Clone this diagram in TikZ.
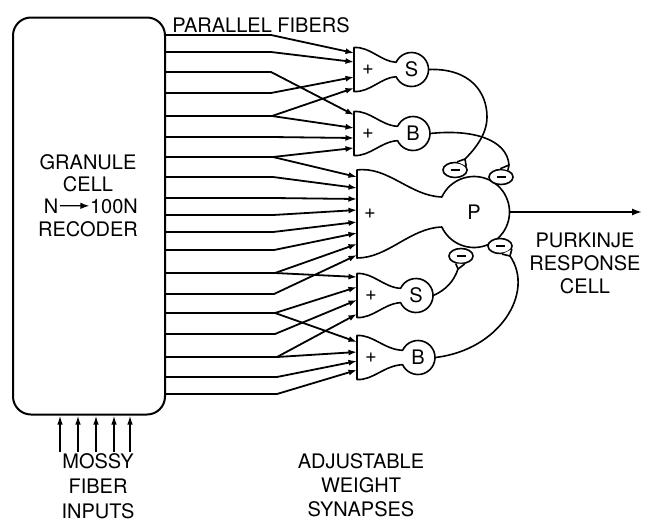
\documentclass[tikz,border=0pt]{standalone}
\usepackage{fontspec}
\setmainfont{TeX Gyre Heros}
\usetikzlibrary{arrows.meta,shapes.geometric,calc}
\newcommand\lblfont{\fontsize{20}{24}\selectfont}
\tikzset{
  cellline/.style={line width=1.6pt, line join=round},
  fib/.style={line width=1.8pt, line join=round, -{Latex[length=8.5pt,width=6pt]}},
  syn/.style={ellipse, draw, line width=1.6pt, minimum width=24pt, minimum height=15pt, inner sep=0pt, fill=white},
  txt/.style={font=\lblfont, inner sep=0pt, anchor=base},
  inhib/.style={line width=1.6pt},
}
\newcommand\smallcell[5]{%
  \node[circle, minimum size=34pt, inner sep=0pt, font=\lblfont] (#1) at (#4,#3) {#5};
  \node[font=\lblfont, inner sep=0pt] (#1plus) at (#2+14,#3) {+};
  \draw[cellline] (#2,#3-22) .. controls (#2+16,#3-23) and (#2+27,#3-8) .. ($(#1)+(155:17pt)$)
     arc[start angle=155, end angle=-155, radius=17pt]
     .. controls (#2+27,#3+8) and (#2+16,#3+23) .. (#2,#3+22) -- cycle;
}
% synapse tail: name, angle1, angle2
\newcommand\syntail[3]{%
  \fill[white] (#1.#2) -- (#1t) -- (#1.#3) -- cycle;
  \draw[inhib, line join=round] (#1.#2) -- (#1t) -- (#1.#3);
}
\begin{document}
\begin{tikzpicture}[x=1pt,y=-1pt]
\useasboundingbox (0,0) rectangle (647,522);

% granule cell box
\node[draw, line width=2pt, rounded corners=18pt, minimum width=152pt, minimum height=397pt, inner sep=0pt] (gran) at (89,216) {};
\node[txt] (g1) at (88,169) {GRANULE};
\node[txt] (g2) at (88,191) {CELL};
\node[txt] (g3) at (51,213) {N};
\node[txt] (g4) at (114,213) {100N};
\draw[line width=1.3pt, -{Latex[length=9pt,width=6.5pt]}] ($(g3.east)+(1.5,0)$) -- ($(g4.west)+(-0.5,0)$);
\node[txt] (g5) at (88,236) {RECODER};

\node[txt] (pf) at (261,32) {PARALLEL FIBERS};

% cells
\smallcell{S1}{354}{69.5}{411.5}{S}
\smallcell{B1}{354}{133.5}{413}{B}
\smallcell{S2}{357}{295.5}{416}{S}
\smallcell{B2}{357}{357.5}{418}{B}

\node[circle, minimum size=71pt, inner sep=0pt, font=\lblfont] (P) at (474,212) {P};
\node[font=\lblfont, inner sep=0pt] (Pplus) at (370,214) {+};
\draw[cellline] (357,170) .. controls (388,166) and (410,196) .. ($(P)+(155:35.5pt)$)
   arc[start angle=155, end angle=-155, radius=35.5pt]
   .. controls (410,228) and (388,258) .. (357,258) -- cycle;

% fiber start and bend points
\foreach \n/\y/\bx in {1/35/271,2/52/271,3/72/271,4/93/271,5/116/272,6/137/271,7/157/273,
  8/177/273,9/198/273,10/215/273,11/232/273,12/250/274,13/273/275,14/294/274,15/313/275,
  16/334/275,17/357/277,18/377/277,19/394/277}{
  \coordinate (f\n) at (165,\y);
  \coordinate (k\n) at (\bx,\y);
}
% targets
\coordinate (tS1a) at (354,53);  \coordinate (tS1b) at (354,62);
\coordinate (tS1c) at (354,77);  \coordinate (tS1d) at (354,88);
\coordinate (tB1a) at (354,115); \coordinate (tB1b) at (354,128);
\coordinate (tB1c) at (354,138); \coordinate (tB1d) at (354,148);
\coordinate (tPa) at (357,177); \coordinate (tPb) at (357,188);
\coordinate (tPc) at (357,199); \coordinate (tPd) at (357,210);
\coordinate (tPe) at (357,222); \coordinate (tPf) at (357,233);
\coordinate (tPg) at (357,244); \coordinate (tPh) at (357,255);
\coordinate (tS2a) at (357,277); \coordinate (tS2b) at (357,287);
\coordinate (tS2c) at (357,300); \coordinate (tS2d) at (357,314);
\coordinate (tB2a) at (357,342); \coordinate (tB2b) at (357,352);
\coordinate (tB2c) at (357,361); \coordinate (tB2d) at (357,370);

\draw[fib] (f1)--(k1)--(tS1a);
\draw[fib] (f2)--(k2)--(tS1b);
\draw[fib] (f3)--(k3)--(tB1a);
\draw[fib] (f4)--(k4)--(tS1c);
\draw[fib] (f5)--(k5)--(tS1d); \draw[fib] (k5)--(tB1b);
\draw[fib] (f6)--(k6)--(tB1c);
\draw[fib] (f7)--(k7)--(tB1d); \draw[fib] (k7)--(tPa);
\draw[fib] (f8)--(k8)--(tPb);
\draw[fib] (f9)--(k9)--(tPc);
\draw[fib] (f10)--(k10)--(tPd);
\draw[fib] (f11)--(k11)--(tPe);
\draw[fib] (f12)--(k12)--(tPf);
\draw[fib] (f13)--(k13)--(tPg); \draw[fib] (k13)--(tS2a);
\draw[fib] (f14)--(k14)--(tPh);
\draw[fib] (f15)--(k15)--(tS2b); \draw[fib] (k15)--(tB2a);
\draw[fib] (f16)--(k16)--(tS2c);
\draw[fib] (f17)--(k17)--(tS2d); \draw[fib] (k17)--(tB2b);
\draw[fib] (f18)--(k18)--(tB2c);
\draw[fib] (f19)--(k19)--(tB2d);

% inhibitory synapses
\node[syn] (sA) at (455,170) {\rule[-0.75pt]{9pt}{1.5pt}};
\node[syn] (sB) at (501,177) {\rule[-0.75pt]{9pt}{1.5pt}};
\node[syn] (sC) at (461,256) {\rule[-0.75pt]{9pt}{1.5pt}};
\node[syn] (sD) at (500,246) {\rule[-0.75pt]{9pt}{1.5pt}};
\coordinate (sAt) at ($(sA)+(10,-11)$);
\coordinate (sBt) at ($(sB)+(8,-12)$);
\coordinate (sCt) at ($(sC)+(-3,13)$);
\coordinate (sDt) at ($(sD)+(10,10)$);
\syntail{sA}{20}{75}
\syntail{sB}{45}{95}
\syntail{sC}{-125}{-65}
\syntail{sD}{-75}{-15}

\draw[inhib] (S1.east) .. controls (470,68) and (487,92) .. (487,117)
   .. controls (487,135) and (474,150) .. (sAt);
\draw[inhib] (B1.east) .. controls (472,129) and (507,139) .. (sBt);
\draw[inhib] (S2.east) .. controls (446,290) and (454,281) .. (sCt);
\draw[inhib] (B2.east) .. controls (500,350) and (535,292) .. (sDt);

% output
\coordinate (outend) at (642,212);
\draw[line width=1.7pt, -{Latex[length=10pt,width=7pt]}] (P.east) -- (outend);
\node[txt] (pu1) at (585,247) {PURKINJE};
\node[txt] (pu2) at (585,270) {RESPONSE};
\node[txt] (pu3) at (585,293) {CELL};

% mossy fibers
\foreach \i/\x in {1/60,2/78,3/96,4/114,5/130}{
  \coordinate (mb\i) at (\x,452);
  \draw[line width=1.5pt, -{Latex[length=9pt,width=5.5pt]}] (mb\i) -- (mb\i |- gran.south);
}
\node[txt] (m1) at (98,468) {MOSSY};
\node[txt] (m2) at (98,493.5) {FIBER};
\node[txt] (m3) at (98,518.5) {INPUTS};

\node[txt] (a1) at (361,468) {ADJUSTABLE};
\node[txt] (a2) at (361,492) {WEIGHT};
\node[txt] (a3) at (361,516) {SYNAPSES};
\end{tikzpicture}
\end{document}
